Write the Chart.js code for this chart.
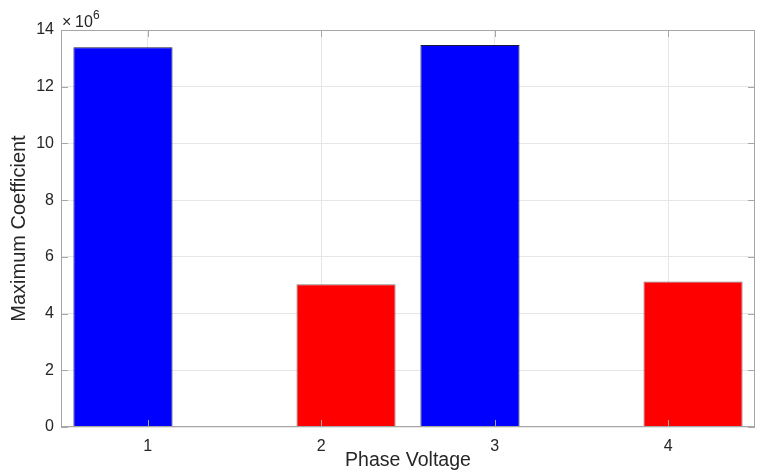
<!DOCTYPE html>
<html>
<head>
<meta charset="utf-8">
<script src="https://cdn.jsdelivr.net/npm/chart.js@4/dist/chart.umd.min.js"></script>
<style>
  html, body { margin: 0; padding: 0; background: #fff; }
  #wrap { width: 758px; height: 473px; }
</style>
</head>
<body>
<div id="wrap"><canvas id="c" width="758" height="473"></canvas></div>
<script>
// Phase voltage categories and the maximum coefficient of each (in units of 1e6)
const categories = ['1', '2', '3', '4'];
const blueValues = [13.39, null, 13.47, null];
const redValues  = [null, 5.03, null, 5.13];
const yTicks = [0, 2, 4, 6, 8, 10, 12, 14];

const FONT = '"Liberation Sans", Arial, sans-serif';
const TEXT = '#262626';
const AXIS = '#a6a6a6';
const GRID = '#e6e6e6';

// Box around the plot, inward tick marks on all four sides, and the exponent label
const axesBox = {
  id: 'axesBox',
  afterDatasetsDraw(chart) {
    const { ctx, chartArea: a, scales } = chart;
    const len = 7;
    ctx.save();
    ctx.strokeStyle = AXIS;
    ctx.lineWidth = 1;
    ctx.beginPath();
    scales.y.ticks.forEach((t) => {
      const y = Math.round(scales.y.getPixelForValue(t.value)) + 0.5;
      ctx.moveTo(a.left, y); ctx.lineTo(a.left + len, y);
      ctx.moveTo(a.right, y); ctx.lineTo(a.right - len, y);
    });
    scales.x.ticks.forEach((t, i) => {
      const x = Math.round(scales.x.getPixelForTick(i)) + 0.5;
      ctx.moveTo(x, a.bottom); ctx.lineTo(x, a.bottom - len);
      ctx.moveTo(x, a.top); ctx.lineTo(x, a.top + len);
    });
    ctx.stroke();
    ctx.strokeRect(Math.round(a.left) + 0.5, Math.round(a.top) + 0.5,
                   Math.round(a.right - a.left) - 1, Math.round(a.bottom - a.top) - 1);

    // ×10^6 multiplier above the y axis
    ctx.fillStyle = TEXT;
    ctx.textBaseline = 'alphabetic';
    ctx.textAlign = 'left';
    ctx.font = '16px ' + FONT;
    ctx.fillText('\u00d7', a.left + 1, 27);
    ctx.fillText('10', a.left + 14, 27);
    ctx.font = '12px ' + FONT;
    ctx.fillText('6', a.left + 32, 19);
    ctx.restore();
  }
};

new Chart(document.getElementById('c'), {
  type: 'bar',
  data: {
    labels: categories,
    datasets: [
      {
        data: blueValues,
        backgroundColor: '#0000ff',
        borderColor: '#1a1a40',
        borderWidth: 1,
        categoryPercentage: 0.5714,
        barPercentage: 2.0
      },
      {
        data: redValues,
        backgroundColor: '#ff0000',
        borderColor: '#7a7a7a',
        borderWidth: 1,
        categoryPercentage: 0.5714,
        barPercentage: 2.0
      }
    ]
  },
  options: {
    responsive: false,
    animation: false,
    layout: { padding: { top: 30, right: 3, bottom: 0, left: 0 } },
    plugins: { legend: { display: false }, tooltip: { enabled: false } },
    scales: {
      x: {
        grid: { color: GRID, offset: false, drawTicks: false },
        border: { display: false },
        ticks: { color: TEXT, font: { family: FONT, size: 16 }, padding: 10, maxRotation: 0 },
        title: {
          display: true,
          text: 'Phase Voltage',
          color: TEXT,
          font: { family: FONT, size: 19.5 },
          padding: { top: 0, bottom: 1 }
        },
        afterFit(scale) { scale.height = 46; }
      },
      y: {
        min: 0,
        max: 14,
        afterBuildTicks(scale) { scale.ticks = yTicks.map((v) => ({ value: v })); },
        grid: { color: GRID, drawTicks: false },
        border: { display: false },
        ticks: { color: TEXT, font: { family: FONT, size: 16 }, padding: 7 },
        title: {
          display: true,
          text: 'Maximum Coefficient',
          color: TEXT,
          font: { family: FONT, size: 20 },
          padding: { top: 7, bottom: 0 }
        },
        afterFit(scale) { scale.width = 61; }
      }
    }
  },
  plugins: [axesBox]
});
</script>
</body>
</html>
